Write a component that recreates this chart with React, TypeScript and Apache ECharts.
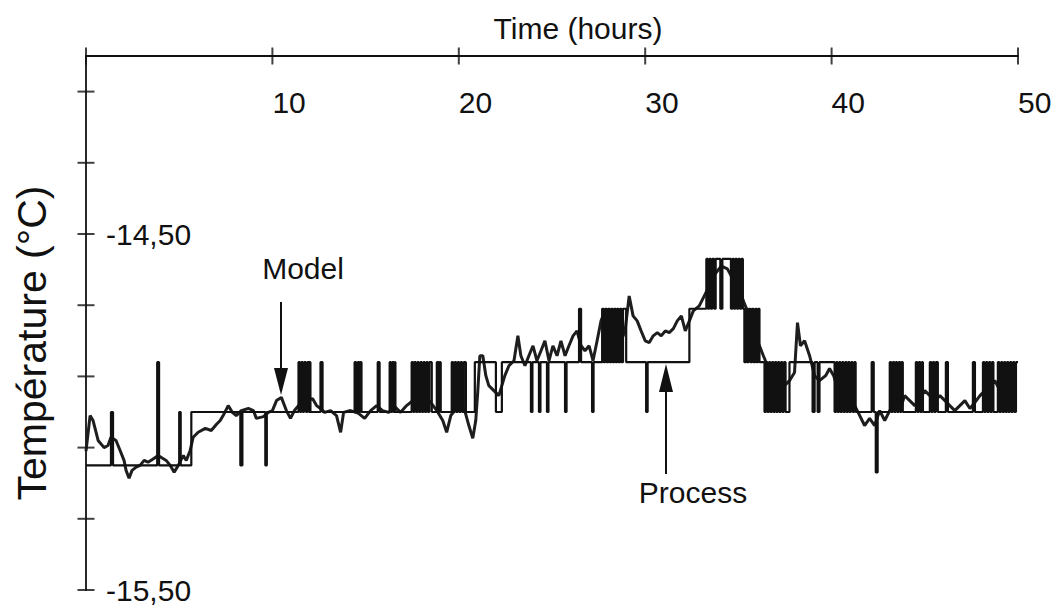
import React, { useEffect, useRef } from "react";
import * as echarts from "echarts";

// Time axis (hours) ticks and temperature axis (°C) ticks
const xTickValues = [0, 10, 20, 30, 40, 50];
const yTickValues = [-15.5, -15.3, -15.1, -14.9, -14.7, -14.5, -14.3, -14.1];

// Process: quantised measured temperature (step changes) [hours, °C]
const processSteps: [number, number][] = [
  [0, -15.15], [1.34, -15.0], [1.45, -15.15], [3.82, -14.86], [3.92, -15.15], [5.0, -15.0], [5.08, -15.15],
  [5.65, -15.0], [8.28, -15.15], [8.39, -15.0], [9.62, -15.15], [9.7, -15.0],
  [11.4, -14.86], [11.48, -15.0], [11.55, -14.86], [11.63, -15.0], [11.7, -14.86], [11.8, -15.0], [11.88, -14.86], [11.96, -15.0], [12.0, -14.86], [12.04, -15.0],
  [12.58, -14.86], [12.69, -15.0],
  [14.41, -14.86], [14.5, -15.0], [14.58, -14.86], [14.66, -15.0], [14.72, -14.86], [14.78, -15.0],
  [15.65, -14.86], [15.75, -15.0],
  [16.29, -14.86], [16.36, -15.0], [16.43, -14.86], [16.5, -15.0], [16.56, -14.86], [16.6, -15.0],
  [17.47, -14.86], [17.55, -15.0], [17.62, -14.86], [17.7, -15.0], [17.78, -14.86], [17.86, -15.0], [17.94, -14.86], [18.02, -15.0],
  [18.1, -14.86], [18.18, -15.0], [18.26, -14.86], [18.34, -15.0], [18.42, -14.86], [18.55, -15.0],
  [18.82, -14.86], [18.9, -15.0], [18.96, -14.86], [19.03, -15.0],
  [19.62, -14.86], [19.7, -15.0], [19.78, -14.86], [19.86, -15.0], [19.94, -14.86], [20.02, -15.0], [20.1, -14.86], [20.18, -15.0], [20.26, -14.86], [20.38, -15.0],
  [20.86, -14.86], [21.99, -15.0], [22.31, -14.86],
  [23.87, -15.0], [23.95, -14.86], [24.3, -15.0], [24.38, -14.86], [24.73, -15.0], [24.81, -14.86], [25.7, -15.0], [25.78, -14.86],
  [26.45, -14.71], [26.56, -14.86], [27.15, -15.0], [27.23, -14.86],
  [27.69, -14.71], [27.77, -14.86], [27.85, -14.71], [27.93, -14.86], [28.01, -14.71], [28.09, -14.86], [28.17, -14.71], [28.25, -14.86],
  [28.33, -14.71], [28.41, -14.86], [28.49, -14.71], [28.57, -14.86], [28.65, -14.71], [28.73, -14.86], [28.81, -14.71], [28.98, -14.86],
  [30.05, -15.0], [30.13, -14.86],
  [32.37, -14.71], [33.28, -14.57], [33.36, -14.71], [33.44, -14.57], [33.52, -14.71], [33.6, -14.57], [33.7, -14.71], [33.78, -14.57],
  [34.03, -14.71], [34.14, -14.57],
  [34.6, -14.71], [34.68, -14.57], [34.76, -14.71], [34.84, -14.57], [34.92, -14.71], [35.0, -14.57], [35.08, -14.71], [35.16, -14.57], [35.24, -14.71],
  [35.32, -14.86], [35.4, -14.71], [35.48, -14.86], [35.56, -14.71], [35.65, -14.86], [35.73, -14.71], [35.81, -14.86], [35.9, -14.71],
  [35.97, -14.86], [36.05, -14.71], [36.13, -14.86],
  [36.4, -15.0], [36.48, -14.86], [36.56, -15.0], [36.64, -14.86], [36.72, -15.0], [36.8, -14.86], [36.88, -15.0], [36.96, -14.86],
  [37.04, -15.0], [37.12, -14.86], [37.2, -15.0], [37.28, -14.86], [37.36, -15.0], [37.44, -14.86], [37.53, -15.0], [37.74, -14.86],
  [38.98, -15.0], [39.09, -14.86], [39.25, -15.0], [39.35, -14.86],
  [40.16, -15.0], [40.24, -14.86], [40.32, -15.0], [40.4, -14.86], [40.48, -15.0], [40.56, -14.86], [40.64, -15.0], [40.72, -14.86],
  [40.8, -15.0], [40.88, -14.86], [40.96, -15.0], [41.04, -14.86], [41.13, -15.0], [41.21, -14.86], [41.29, -15.0],
  [42.15, -14.86], [42.26, -15.0], [42.37, -15.17], [42.47, -15.0],
  [43.12, -14.86], [43.2, -15.0], [43.28, -14.86], [43.36, -15.0], [43.44, -14.86], [43.52, -15.0], [43.6, -14.86], [43.68, -15.0], [43.75, -14.86], [43.82, -15.0],
  [44.52, -14.86], [44.6, -15.0], [44.68, -14.86], [44.76, -15.0], [44.84, -14.86], [44.9, -15.0],
  [45.27, -14.86], [45.35, -15.0], [45.43, -14.86], [45.51, -15.0], [45.59, -14.86], [45.7, -15.0],
  [46.13, -14.86], [46.24, -15.0],
  [47.58, -14.86], [47.69, -15.0],
  [48.12, -14.86], [48.2, -15.0], [48.28, -14.86], [48.36, -15.0], [48.44, -14.86], [48.52, -15.0], [48.6, -14.86], [48.68, -15.0],
  [48.92, -14.86], [49.0, -15.0], [49.09, -14.86], [49.17, -15.0], [49.25, -14.86], [49.33, -15.0], [49.41, -14.86], [49.49, -15.0],
  [49.57, -14.86], [49.65, -15.0], [49.73, -14.86], [49.81, -15.0], [49.89, -14.86], [50.0, -14.86],
];

// Model: simulated temperature [hours, °C]
const modelPoints: [number, number][] = [
  [0, -15.11], [0.22, -15.01], [0.38, -15.024], [0.65, -15.08], [0.97, -15.1], [1.18, -15.094], [1.34, -15.071],
  [1.61, -15.08], [1.83, -15.108], [2.04, -15.136], [2.15, -15.164], [2.31, -15.186], [2.47, -15.164], [2.69, -15.155],
  [2.9, -15.15], [3.12, -15.136], [3.33, -15.141], [3.66, -15.13], [3.87, -15.122], [4.3, -15.136], [4.52, -15.15],
  [4.73, -15.169], [4.95, -15.15], [5.22, -15.122], [5.38, -15.136], [5.59, -15.108], [5.75, -15.071], [6.02, -15.057],
  [6.4, -15.046], [6.72, -15.052], [6.99, -15.035], [7.2, -15.024], [7.42, -15.004], [7.63, -14.982], [7.85, -15.001],
  [8.06, -15.01], [8.33, -14.996], [8.71, -14.99], [8.98, -14.996], [9.14, -15.018], [9.52, -15.013], [9.78, -15.001],
  [10.0, -14.996], [10.22, -14.968], [10.48, -14.959], [10.75, -14.996], [10.97, -15.018], [11.18, -14.996], [11.4, -14.982],
  [11.67, -14.954], [11.94, -14.968], [12.15, -14.962], [12.37, -14.982], [12.58, -14.99], [12.8, -15.001], [13.12, -14.996],
  [13.44, -15.01], [13.66, -15.057], [13.82, -15.001], [14.19, -14.996], [14.62, -15.004], [14.95, -15.018], [15.27, -14.996],
  [15.59, -14.982], [15.91, -14.996], [16.24, -15.001], [16.56, -14.985], [16.88, -15.001], [17.2, -14.982], [17.53, -14.968],
  [17.85, -14.99], [18.17, -14.954], [18.49, -14.973], [18.82, -14.996], [19.14, -15.024], [19.35, -15.057], [19.57, -15.01],
  [20.0, -14.982], [20.32, -14.996], [20.54, -15.038], [20.75, -15.074], [20.91, -15.024], [21.02, -14.94], [21.13, -14.842],
  [21.29, -14.842], [21.45, -14.898], [21.61, -14.926], [21.88, -14.94], [22.15, -14.954], [22.31, -14.926], [22.47, -14.898],
  [22.69, -14.87], [22.96, -14.856], [23.17, -14.786], [23.33, -14.842], [23.55, -14.87], [23.76, -14.842], [23.98, -14.814],
  [24.19, -14.856], [24.41, -14.828], [24.62, -14.8], [24.84, -14.856], [25.05, -14.814], [25.27, -14.842], [25.48, -14.8],
  [25.7, -14.842], [25.91, -14.814], [26.13, -14.786], [26.34, -14.772], [26.56, -14.814], [26.77, -14.828], [26.99, -14.814],
  [27.2, -14.856], [27.42, -14.8], [27.63, -14.744], [27.85, -14.716], [28.06, -14.772], [28.28, -14.73], [28.49, -14.758],
  [28.71, -14.8], [28.92, -14.772], [29.14, -14.674], [29.35, -14.73], [29.57, -14.744], [29.78, -14.772], [30.0, -14.8],
  [30.22, -14.805], [30.43, -14.786], [30.65, -14.777], [30.86, -14.786], [31.08, -14.772], [31.29, -14.777], [31.51, -14.766],
  [31.72, -14.744], [31.94, -14.73], [32.15, -14.772], [32.37, -14.744], [32.58, -14.716], [32.9, -14.702], [33.17, -14.674],
  [33.44, -14.646], [33.66, -14.618], [33.87, -14.604], [34.09, -14.59], [34.41, -14.598], [34.62, -14.618], [34.84, -14.632],
  [35.05, -14.66], [35.27, -14.688], [35.48, -14.716], [35.7, -14.744], [35.91, -14.786], [36.13, -14.814], [36.34, -14.842],
  [36.56, -14.87], [36.77, -14.889], [36.99, -14.912], [37.2, -14.94], [37.47, -14.926], [37.74, -14.912], [38.01, -14.889],
  [38.17, -14.749], [38.33, -14.814], [38.55, -14.8], [38.82, -14.842], [39.09, -14.898], [39.35, -14.912], [39.68, -14.898],
  [39.89, -14.878], [40.11, -14.898], [40.43, -14.954], [40.7, -14.982], [40.97, -14.954], [41.24, -14.982], [41.51, -15.01],
  [41.77, -15.038], [42.04, -15.018], [42.31, -15.038], [42.58, -14.996], [42.85, -15.024], [43.12, -14.996], [43.39, -14.982],
  [43.66, -14.996], [43.92, -14.954], [44.19, -14.968], [44.46, -14.982], [44.73, -14.962], [45.0, -14.94], [45.27, -14.954],
  [45.54, -14.968], [45.81, -14.954], [46.08, -14.968], [46.34, -14.982], [46.61, -14.996], [46.88, -14.982], [47.15, -14.968],
  [47.42, -14.99], [47.69, -14.973], [47.96, -14.954], [48.23, -14.94], [48.49, -14.926], [48.76, -14.912], [49.03, -14.94],
  [49.3, -14.954], [49.57, -14.926], [49.84, -14.912],
];

const FONT = "'Liberation Sans', Arial, Helvetica, sans-serif";
const INK = "#111";

export default function App() {
  const ref = useRef<HTMLDivElement>(null);
  useEffect(() => {
    const chart = echarts.init(ref.current!, null, { renderer: "svg" });
    const txt = (text: string, x: number, y: number, size: number, rotation = 0) => ({
      type: "text",
      x,
      y,
      rotation,
      style: {
        text,
        fontSize: size,
        fontFamily: FONT,
        fill: INK,
        align: "center",
        verticalAlign: "middle",
        textAlign: "center",
        textVerticalAlign: "middle",
      },
    });
    chart.setOption({
      animation: false,
      backgroundColor: "#fff",
      textStyle: { fontFamily: FONT },
      grid: { left: 86, right: 37, top: 56, bottom: 15, containLabel: false },
      xAxis: {
        type: "value",
        position: "top",
        min: 0,
        max: 50,
        interval: 10,
        axisLine: { show: true, onZero: false, lineStyle: { color: INK, width: 1.8 } },
        axisTick: { show: false },
        splitLine: { show: false },
        axisLabel: {
          inside: true,
          margin: 31,
          fontSize: 30,
          color: INK,
          fontFamily: FONT,
          align: "left",
          formatter: (v: number) => (v === 0 ? "" : String(v)),
        },
      },
      yAxis: {
        type: "value",
        min: -15.5,
        max: -14.0,
        interval: 0.5,
        axisLine: { show: true, onZero: false, lineStyle: { color: INK, width: 1.8 } },
        axisTick: { show: false },
        splitLine: { show: false },
        axisLabel: {
          inside: true,
          margin: 20,
          fontSize: 30,
          color: INK,
          fontFamily: FONT,
          showMinLabel: true,
          formatter: (v: number) =>
            Math.abs(v + 14.5) < 1e-6 ? "-14,50" : Math.abs(v + 15.5) < 1e-6 ? "-15,50" : "",
        },
      },
      series: [
        {
          name: "Model",
          type: "line",
          data: modelPoints,
          showSymbol: false,
          symbol: "none",
          lineStyle: { color: "#1e1e1e", width: 3 },
          z: 2,
        },
        {
          name: "Process",
          type: "line",
          step: "end",
          data: processSteps,
          showSymbol: false,
          symbol: "none",
          lineStyle: { color: INK, width: 2.2 },
          z: 3,
        },
        {
          name: "xTicks",
          type: "scatter",
          data: xTickValues.map((v) => [v, -14.0]),
          symbol: "rect",
          symbolSize: [2, 17],
          itemStyle: { color: INK },
          clip: false,
          silent: true,
          z: 4,
        },
        {
          name: "yTicks",
          type: "scatter",
          data: yTickValues.map((v) => [0, v]),
          symbol: "rect",
          symbolSize: [17, 2],
          itemStyle: { color: INK },
          clip: false,
          silent: true,
          z: 4,
        },
      ],
      graphic: [
        txt("Time (hours)", 578, 28, 30),
        txt("Température (°C)", 32, 343, 41, Math.PI / 2),
        txt("Model", 303, 268, 30),
        txt("Process", 693, 492, 30),
        { type: "line", shape: { x1: 281, y1: 302, x2: 281, y2: 372 }, style: { stroke: INK, lineWidth: 2 } },
        { type: "polygon", shape: { points: [[274, 368], [288, 368], [281, 395]] }, style: { fill: INK } },
        { type: "line", shape: { x1: 666, y1: 474, x2: 666, y2: 390 }, style: { stroke: INK, lineWidth: 2 } },
        { type: "polygon", shape: { points: [[659, 392], [673, 392], [666, 364]] }, style: { fill: INK } },
      ],
    });
    return () => chart.dispose();
  }, []);
  return (
    <div
      ref={ref}
      style={{ position: "fixed", left: 0, top: 0, width: 1055, height: 605, background: "#fff" }}
    />
  );
}
